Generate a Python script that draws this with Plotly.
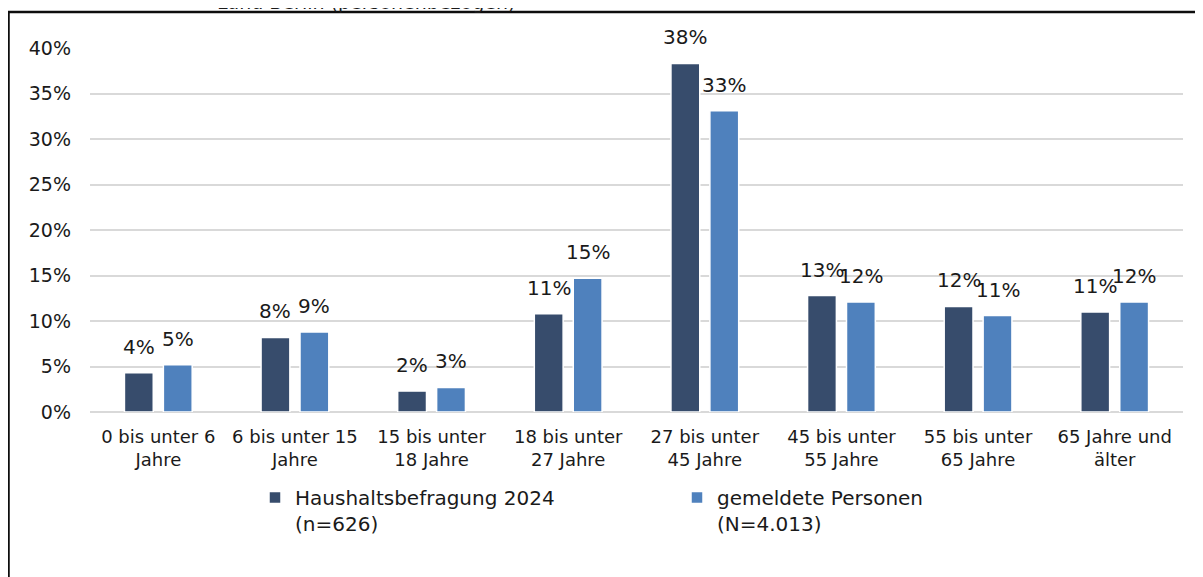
import plotly.graph_objects as go

categories = [
    "0 bis unter 6<br>Jahre",
    "6 bis unter 15<br>Jahre",
    "15 bis unter<br>18 Jahre",
    "18 bis unter<br>27 Jahre",
    "27 bis unter<br>45 Jahre",
    "45 bis unter<br>55 Jahre",
    "55 bis unter<br>65 Jahre",
    "65 Jahre und<br>älter",
]
befragung = [0.043, 0.082, 0.023, 0.108, 0.383, 0.128, 0.116, 0.110]
gemeldet = [0.052, 0.088, 0.027, 0.147, 0.331, 0.121, 0.106, 0.121]

FONT = "Century Gothic, DejaVu Sans, sans-serif"
TEXT = "#1a1a1a"

# page body adds an 8px offset, so the figure is sized to the rest of the window
W, H = 1195, 569
L, R, T, B = 82, 20, 40, 165
PW, PH = W - L - R, H - T - B

fig = go.Figure()
fig.add_trace(go.Bar(
    x=categories, y=befragung,
    name="Haushaltsbefragung 2024<br>(n=626)",
    marker=dict(color="#374C6C", line=dict(color="white", width=1.5)),
))
fig.add_trace(go.Bar(
    x=categories, y=gemeldet,
    name="gemeldete Personen<br>(N=4.013)",
    marker=dict(color="#4F81BD", line=dict(color="white", width=1.5)),
))

# data labels, lifted a bit above the bars like in the original
for series, shift in ((befragung, -19.5), (gemeldet, 19.5)):
    for cat, val in zip(categories, series):
        fig.add_annotation(x=cat, y=val, xshift=shift, yshift=12,
                           text=f"{round(val * 100)}%", showarrow=False,
                           yanchor="bottom", font=dict(size=20, color=TEXT))

fig.update_layout(
    width=W, height=H,
    margin=dict(l=L, r=R, t=T, b=B),
    paper_bgcolor="white", plot_bgcolor="white",
    font=dict(family=FONT, size=18, color=TEXT),
    barmode="group", bargap=0.43, bargroupgap=0.26,
    showlegend=True,
    legend=dict(
        orientation="h", x=(247 - L) / PW, y=(T + PH - 470) / PH,
        xanchor="left", yanchor="top",
        entrywidth=377, itemwidth=30, valign="top",
        font=dict(size=20), traceorder="normal",
    ),
)
fig.update_yaxes(
    range=[0, 0.4], dtick=0.05, tickformat=".0%",
    showgrid=True, gridcolor="#D9D9D9", gridwidth=1.5,
    zeroline=True, zerolinecolor="#D9D9D9", zerolinewidth=1.5,
    ticklabelstandoff=18, tickfont=dict(size=19),
)
fig.update_xaxes(showgrid=False, showline=False, tickfont=dict(size=18),
                 ticklabelstandoff=12)

# outer frame of the chart object
fig.add_shape(type="rect", xref="paper", yref="paper",
              x0=(0.5 - L) / PW, x1=(W + 40 - L) / PW,
              y0=(T + PH - (H + 30)) / PH, y1=(T + PH - 4) / PH,
              line=dict(color="#0d0d0d", width=2.5), layer="below")

# cut-off title line above the frame
fig.add_annotation(text="Land Berlin (personenbezogen)", xref="paper", yref="paper",
                   x=(207 - L) / PW, y=(T + PH + 6) / PH, xanchor="left", yanchor="middle",
                   showarrow=False, font=dict(size=19, color=TEXT))

fig.write_html("out.html")
